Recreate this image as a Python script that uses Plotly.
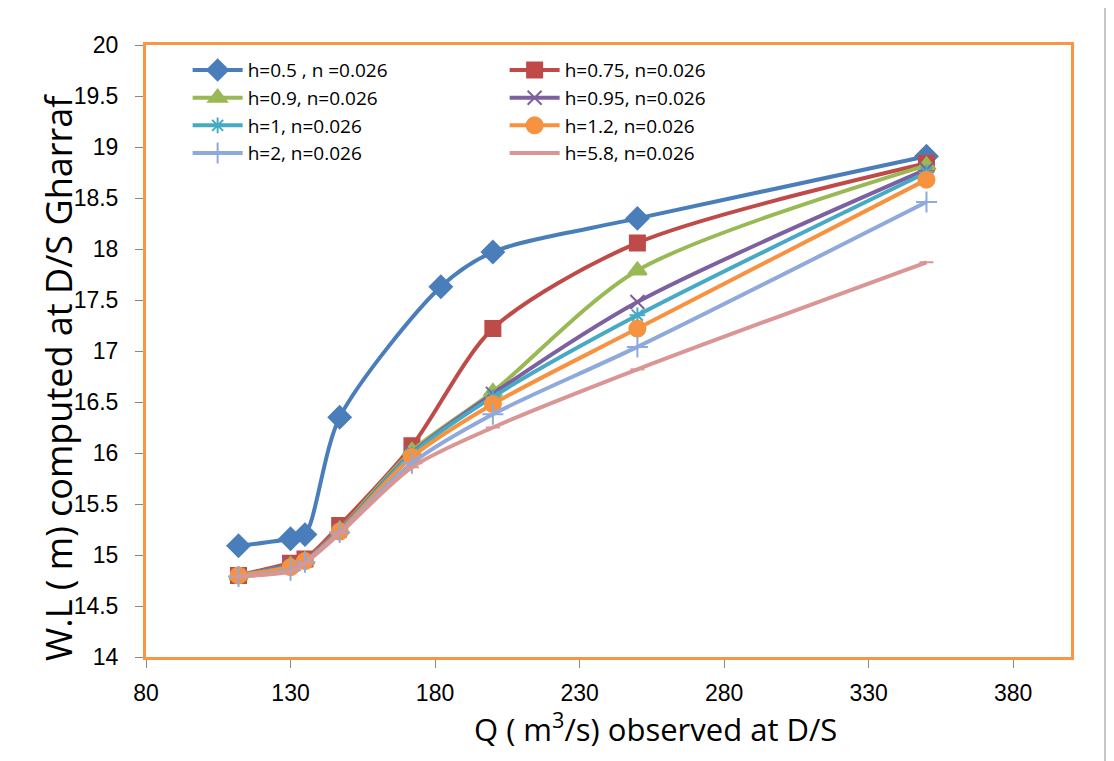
import plotly.graph_objects as go

# Observed discharge Q (m3/s)
q_obs = [112, 130, 135, 147, 172, 200, 250, 350]
q_obs_h05 = [112, 130, 135, 147, 182, 200, 250, 350]

# Computed water levels (m)
wl_h05 = [15.09, 15.16, 15.20, 16.35, 17.63, 17.97, 18.30, 18.91]
wl_h075 = [14.80, 14.92, 14.96, 15.29, 16.07, 17.22, 18.06, 18.84]
wl_h09 = [14.80, 14.90, 14.95, 15.25, 16.02, 16.60, 17.79, 18.82]
wl_h095 = [14.80, 14.90, 14.95, 15.24, 16.00, 16.58, 17.48, 18.78]
wl_h1 = [14.80, 14.89, 14.94, 15.23, 15.99, 16.55, 17.35, 18.75]
wl_h12 = [14.80, 14.88, 14.94, 15.23, 15.96, 16.48, 17.22, 18.68]
wl_h2 = [14.79, 14.85, 14.93, 15.22, 15.90, 16.38, 17.04, 18.46]
wl_h58 = [14.79, 14.84, 14.92, 15.21, 15.86, 16.25, 16.82, 17.87]

names = ["h=0.5 , n =0.026", "h=0.75, n=0.026", "h=0.9, n=0.026", "h=0.95, n=0.026",
         "h=1, n=0.026", "h=1.2, n=0.026", "h=2, n=0.026", "h=5.8, n=0.026"]

x_title = "Q ( m<sup>3</sup>/s) observed at D/S"
y_title = "W.L ( m) computed at D/S Gharraf"

series = [
    (q_obs_h05, wl_h05, "#4A7EBB", "diamond", 17),
    (q_obs, wl_h075, "#BE4B48", "square", 15),
    (q_obs, wl_h09, "#98B954", "triangle-up", 16),
    (q_obs, wl_h095, "#7D60A0", "x-thin-open", 14),
    (q_obs, wl_h1, "#46AAC5", "asterisk-open", 13),
    (q_obs, wl_h12, "#F69240", "circle", 16),
    (q_obs, wl_h2, "#8EA9DB", "cross-thin-open", 15),
    (q_obs, wl_h58, "#D99694", "line-ew-open", 10),
]

fig = go.Figure()
for name, (xs, ys, col, sym, sz) in zip(names, series):
    fig.add_trace(go.Scatter(
        x=xs, y=ys, name=name, mode="lines+markers",
        line=dict(color=col, width=4, shape="spline", smoothing=0.8),
        marker=dict(symbol=sym, size=sz, color=col, line=dict(color=col, width=2)),
    ))

fig.update_layout(
    width=1106, height=753,
    margin=dict(l=138, r=43, t=37, b=104),
    paper_bgcolor="white", plot_bgcolor="white",
    showlegend=True,
    legend=dict(
        orientation="h", x=0.045, y=0.99, xanchor="left", yanchor="top",
        entrywidth=252, entrywidthmode="pixels",
        font=dict(family="Open Sans, sans-serif", size=19, color="black"),
        bgcolor="rgba(0,0,0,0)", tracegroupgap=0, itemwidth=50,
    ),
    xaxis=dict(
        range=[80, 400], tick0=80, dtick=50, showgrid=False, zeroline=False,
        showline=True, linecolor="#F79646", linewidth=3, mirror=True,
        ticks="outside", ticklen=8, tickcolor="#888888",
        ticklabelstandoff=5,
        tickfont=dict(family="Liberation Sans, Arial, sans-serif", size=23, color="black"),
    ),
    yaxis=dict(
        range=[14, 20], tick0=14, dtick=0.5, showgrid=False, zeroline=False,
        showline=True, linecolor="#F79646", linewidth=3, mirror=True,
        ticks="outside", ticklen=8, tickcolor="#888888",
        ticklabelstandoff=12,
        tickfont=dict(family="Liberation Sans, Arial, sans-serif", size=23, color="black"),
    ),
    annotations=[
        dict(text=x_title, xref="paper", yref="paper",
             x=(655 - 146) / 925, y=-(727 - 657) / 612,
             xanchor="center", yanchor="middle", showarrow=False,
             font=dict(family="Open Sans, sans-serif", size=31, color="black")),
        dict(text=y_title, xref="paper", yref="paper", textangle=-90,
             x=(58 - 146) / 925, y=1 - (378 - 45) / 612,
             xanchor="center", yanchor="middle", showarrow=False,
             font=dict(family="Open Sans, sans-serif", size=36, color="black")),
    ],
    shapes=[dict(type="rect", xref="paper", yref="paper",
                 x0=(7 - 146) / 925, x1=(1105 - 146) / 925,
                 y0=-(761 - 657 + 10) / 612, y1=1 + (45 - 4) / 612,
                 line=dict(color="#8c8c8c", width=1), layer="below")],
)

fig.write_html("out.html")
